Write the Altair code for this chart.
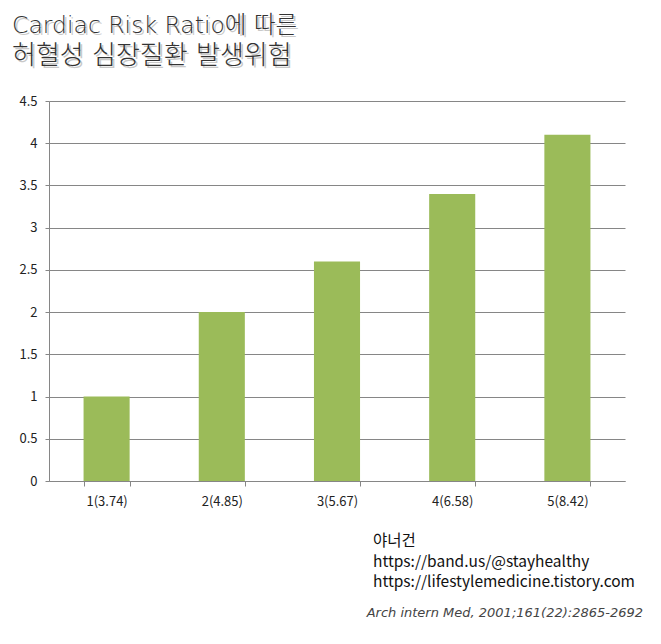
import altair as alt
import pandas as pd

categories = ["1(3.74)", "2(4.85)", "3(5.67)", "4(6.58)", "5(8.42)"]
risk = [1.0, 2.0, 2.6, 3.4, 4.1]
title_lines = ["Cardiac Risk Ratio에 따른", "허혈성 심장질환 발생위험"]
credit_lines = ["야너건", "https://band.us/@stayhealthy", "https://lifestylemedicine.tistory.com"]
source_line = "Arch intern Med, 2001;161(22):2865-2692"

df = pd.DataFrame({"cat": categories, "risk": risk})

FONT = "Noto Sans CJK KR"
WIDE = "DejaVu Sans, Noto Sans CJK KR"

bars = alt.Chart(df).mark_bar(color="#9BBB59").encode(
    x=alt.X("cat:N", sort=categories, title=None,
            scale=alt.Scale(paddingInner=0.6, paddingOuter=0.3),
            axis=alt.Axis(labelAngle=0, tickBand="extent", tickSize=5,
                          labelPadding=9, labelFontSize=13, labelColor="#222",
                          domainColor="#868686", tickColor="#868686", labelFont=FONT)),
    y=alt.Y("risk:Q", title=None,
            scale=alt.Scale(domain=[0, 4.5]),
            axis=alt.Axis(values=[0, 0.5, 1, 1.5, 2, 2.5, 3, 3.5, 4, 4.5],
                          format="~g", tickSize=4, labelPadding=8, labelFontSize=13,
                          labelColor="#222", gridColor="#868686", domainColor="#868686",
                          tickColor="#868686", labelFont=FONT)),
)

def txt(text, x, y, size, color="#222", align="left", style="normal", font=FONT, weight="normal"):
    return alt.Chart(pd.DataFrame({"t": [text]})).mark_text(
        align=align, baseline="middle", fontSize=size, color=color,
        fontStyle=style, font=font, fontWeight=weight
    ).encode(x=alt.value(x), y=alt.value(y), text="t:N")

layers = [bars]
# title with faint shadow
title_sizes = [23.5, 26]
for i, line in enumerate(title_lines):
    y = -75 + i * 30
    layers.append(txt(line, -35, y + 2, title_sizes[i], color="#c8c8c8", font=WIDE, weight=300))
    layers.append(txt(line, -37, y, title_sizes[i], color="#333333", font=WIDE, weight=300))
for i, line in enumerate(credit_lines):
    layers.append(txt(line, 324, 440 + i * 20.5, 15.5, color="#111"))
layers.append(txt(source_line, 594, 512, 13, color="#444", align="right",
                  style="italic", font="DejaVu Sans"))

chart = alt.layer(*layers).properties(
    width=576, height=380,
    autosize=alt.AutoSizeParams(type="none"),
    padding={"left": 41, "top": 93, "right": 20, "bottom": 140},
).configure_view(stroke=None).configure_axis(grid=True).configure_axisX(grid=False)

chart.save("out.html", embed_options={"renderer": "svg", "actions": False})
